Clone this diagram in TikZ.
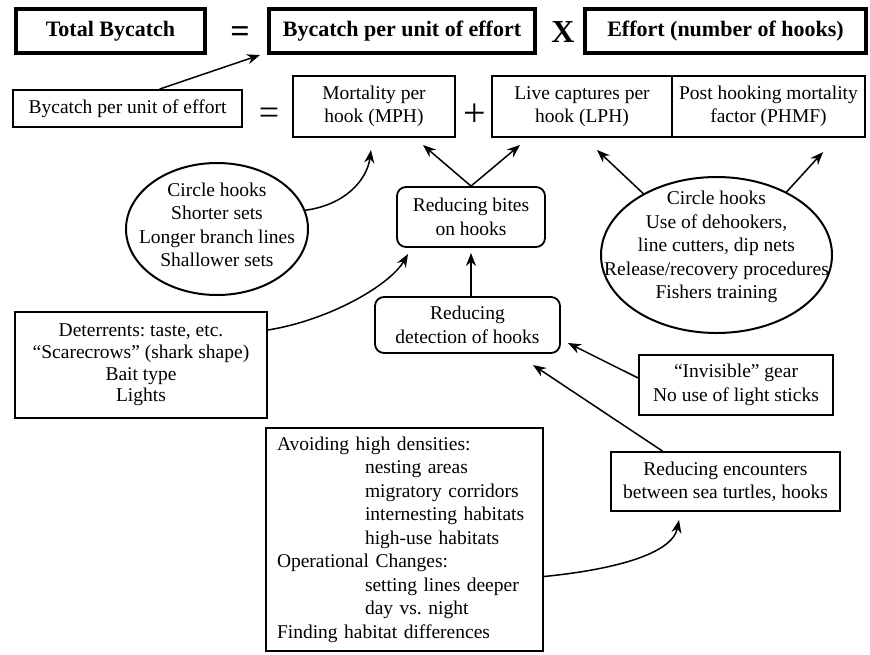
\documentclass[tikz,border=0pt]{standalone}
\usepackage{fontspec}
\setmainfont{Liberation Serif}
\usetikzlibrary{arrows.meta,shapes.geometric,calc}
\frenchspacing
\begin{document}
\begin{tikzpicture}[x=1pt,y=-1pt,
  txt/.style={font=\fontsize{19.5}{23.5}\selectfont, align=center},
  topbox/.style={draw, line width=3.5pt, font=\fontsize{22}{26}\selectfont\bfseries, inner sep=0pt, minimum height=44pt},
  box/.style={txt, draw, line width=1.8pt, inner sep=0pt},
  rbox/.style={box, rounded corners=9pt},
  oval/.style={draw, ellipse, line width=2pt, inner sep=0pt},
  arr/.style={-{Stealth[length=13pt,width=10pt]}, line width=1.5pt},
  sym/.style={inner sep=0pt}
]
\fill[white] (0,0) rectangle (870,654);
\useasboundingbox (0,0) rectangle (870,654);

% top row
\node[topbox, minimum width=189pt] (tb) at (110.5,31) {Total Bycatch};
\node[sym, font=\fontsize{34}{34}\selectfont\bfseries] (eqa) at (240,35) {=};
\node[topbox, minimum width=266pt] (bpu) at (402,31) {Bycatch per unit of effort};
\node[sym, font=\fontsize{32}{32}\selectfont\bfseries] (times) at (563,32) {X};
\node[topbox, minimum width=281pt] (eff) at (725.5,31) {Effort (number of hooks)};

% second row
\node[box, minimum width=229pt, minimum height=37pt] (bpu2) at (127.5,108.5) {Bycatch per unit of effort};
\node[sym, font=\fontsize{36}{36}\selectfont] (eqb) at (269,116) {=};
\node[box, minimum width=162pt, minimum height=61pt] (mph) at (374,106.5) {Mortality per\\hook (MPH)};
\node[sym, font=\fontsize{40}{40}\selectfont] (plus) at (475,115) {+};
\node[box, minimum width=180pt, minimum height=61pt] (lph) at (582,106.5) {Live captures per\\hook (LPH)};
\node[box, minimum width=193pt, minimum height=61pt] (phmf) at (768.5,106.5) {Post hooking mortality\\factor (PHMF)};

% ellipses
\node[oval, minimum width=182pt, minimum height=132pt] (e1) at (217,229) {};
\node[txt] (e1t) at (217,225) {Circle hooks\\Shorter sets\\Longer branch lines\\Shallower sets};
\node[oval, minimum width=231pt, minimum height=156pt] (e2) at (716.5,255) {};
\node[txt] (e2t) at (716.5,247) {Circle hooks\\Use of dehookers,\\line cutters, dip nets\\Release/recovery procedures\\Fishers training};

% middle boxes
\node[rbox, minimum width=148pt, minimum height=60pt] (bites) at (471,217) {Reducing bites\\on hooks};
\node[rbox, minimum width=185pt, minimum height=56pt] (det) at (467.5,325) {Reducing\\detection of hooks};
\node[box, minimum width=252pt, minimum height=106pt, font=\fontsize{19.5}{21.8}\selectfont] (deter) at (141,365) {Deterrents: taste, etc.\\“Scarecrows” (shark shape)\\Bait type\\Lights};
\node[box, minimum width=194pt, minimum height=60pt] (inv) at (736,385) {“Invisible” gear\\No use of light sticks};
\node[box, minimum width=229pt, minimum height=59pt] (enc) at (725.5,481.5) {Reducing encounters\\between sea turtles, hooks};
\node[box, align=left, text width=255pt, minimum height=223pt, inner xsep=11pt] (avoid) at (404.5,539.5) {Avoiding high densities:\\
\hspace*{88pt}nesting areas\\
\hspace*{88pt}migratory corridors\\
\hspace*{88pt}internesting habitats\\
\hspace*{88pt}high-use habitats\\
Operational Changes:\\
\hspace*{88pt}setting lines deeper\\
\hspace*{88pt}day vs. night\\
Finding habitat differences};

% arrow tips
\coordinate (t1) at (260,55);
\coordinate (t2) at (371,150);
\coordinate (t3) at (423,145);
\coordinate (t4) at (520,145);
\coordinate (t5) at (471,253);
\coordinate (t6) at (408,254);
\coordinate (t7) at (597,150);
\coordinate (t8) at (823,152);
\coordinate (t9) at (568,343);
\coordinate (t10) at (533,365);
\coordinate (t11) at (679,520);

\draw[arr] ($(bpu2.north)+(32,0)$) -- (t1);
\draw[arr] (e1.12) .. controls (345,205) and (367,180) .. (t2);
\draw[arr] (bites.north) -- (t3);
\draw[arr] (bites.north) -- (t4);
\draw[arr] (t5 |- det.north) -- (t5);
\draw[arr] ($(deter.east)+(0,-35)$) .. controls (330,320) and (390,285) .. (t6);
\draw[arr] (e2.140) -- (t7);
\draw[arr] (e2.42) -- (t8);
\draw[arr] ($(inv.west)+(0,-7)$) -- (t9);
\draw[arr] ($(enc.north)+(-63,0)$) -- (t10);
\draw[arr] ($(avoid.east)+(0,37)$) .. controls (610,570) and (672,555) .. (t11);
\end{tikzpicture}
\end{document}
